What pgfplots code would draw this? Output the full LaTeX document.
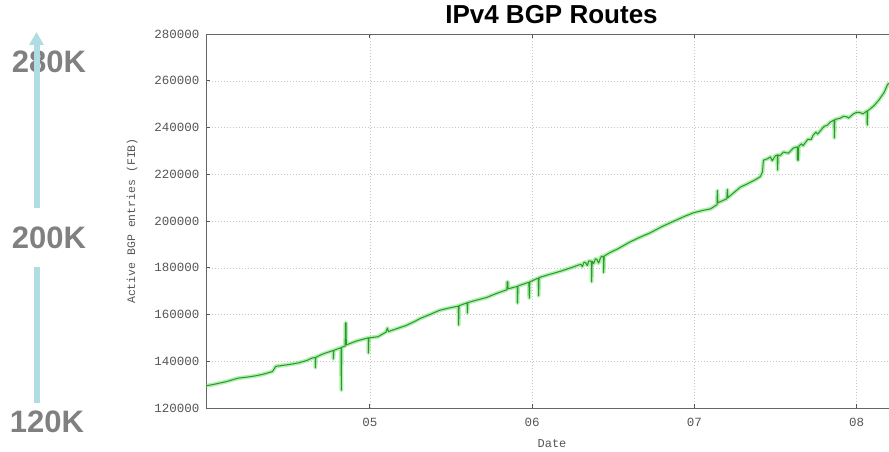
\documentclass[border=0pt]{standalone}
\usepackage{fontspec}
\setmainfont{Liberation Sans}
\setmonofont{Liberation Mono}
\usepackage{pgfplots}
\pgfplotsset{compat=1.18}
\usepackage{pgfplotstable}
\usetikzlibrary{arrows.meta}

\definecolor{routegreen}{RGB}{45,150,45}
\definecolor{glowgreen}{RGB}{95,225,95}
\definecolor{arrowblue}{RGB}{176,221,227}
\definecolor{labelgray}{RGB}{128,128,128}
\definecolor{tickgray}{RGB}{85,85,85}

% active BGP entries (FIB)
\pgfplotstableread{
year     routes
2003.99  129500
2004.03  130000
2004.07  130600
2004.11  131200
2004.15  132000
2004.19  132800
2004.24  133200
2004.29  133700
2004.34  134400
2004.37  135000
2004.40  135600
2004.42  137800
2004.46  138200
2004.51  138700
2004.56  139300
2004.61  140300
2004.645 141400
2004.664 141600
2004.664 137200
2004.667 141700
2004.70  142800
2004.73  143600
2004.775 144600
2004.775 141000
2004.778 144700
2004.81  145500
2004.823 145800
2004.824 127600
2004.826 146000
2004.848 146500
2004.849 156400
2004.853 156400
2004.855 147000
2004.87  147400
2004.92  148700
2004.99  150000
2004.991 143500
2004.994 150000
2005.05  150500
2005.10  152500
2005.108 154200
2005.115 152700
2005.16  153800
2005.22  155200
2005.27  156800
2005.31  158300
2005.37  160000
2005.43  161800
2005.49  162800
2005.546 163600
2005.547 155500
2005.550 163800
2005.60  165000
2005.601 160600
2005.604 165100
2005.66  166200
2005.72  167300
2005.78  169000
2005.845 170600
2005.846 174000
2005.850 174000
2005.852 171000
2005.909 172000
2005.910 164900
2005.913 172200
2005.98  173800
2005.983 167000
2005.986 174000
2006.039 175600
2006.040 168000
2006.043 175800
2006.10  177000
2006.175 178500
2006.24  180000
2006.30  181500
2006.31  180500
2006.32  182400
2006.33  182200
2006.34  181000
2006.35  183000
2006.366 182700
2006.367 174000
2006.370 182800
2006.38  181800
2006.39  183800
2006.40  183500
2006.41  182000
2006.422 184300
2006.43  185000
2006.44  184600
2006.441 178000
2006.444 185000
2006.48  186500
2006.526 188000
2006.60  190900
2006.66  192900
2006.73  195000
2006.80  197600
2006.87  199800
2006.94  202000
2006.994 203500
2007.05  204500
2007.10  205200
2007.14  207000
2007.142 213000
2007.145 207800
2007.20  209500
2007.204 213500
2007.207 210000
2007.25  212500
2007.284 214500
2007.33  216000
2007.38  217800
2007.407 219000
2007.42  221000
2007.426 226000
2007.45  226600
2007.469 227400
2007.48  225800
2007.50  227900
2007.512 228200
2007.513 221800
2007.516 228300
2007.53  228000
2007.549 229500
2007.58  229000
2007.61  231200
2007.635 231700
2007.636 226000
2007.641 226000
2007.644 232000
2007.66  233000
2007.67  232200
2007.70  235000
2007.72  234800
2007.733 236800
2007.75  238000
2007.76  237200
2007.80  240500
2007.82  241000
2007.838 242300
2007.862 243200
2007.863 235500
2007.866 243400
2007.90  244000
2007.92  244800
2007.942 244500
2007.95  244000
2007.98  245800
2008.00  246500
2008.022 246400
2008.04  245800
2008.06  246900
2008.065 247000
2008.066 241000
2008.069 247200
2008.076 247500
2008.11  249500
2008.138 251800
2008.17  255000
2008.19  258200
2008.20  259000
}\routes

\begin{document}
\begin{tikzpicture}
\useasboundingbox (0,0) rectangle (889pt,451pt);
\begin{axis}[
    at={(206pt,43pt)}, anchor=south west,
    scale only axis, width=683pt, height=374pt,
    xmin=2003.99, xmax=2008.2,
    ymin=120000, ymax=280000,
    axis x line*=box, axis y line*=left,
    axis line style={draw=black!60, line width=1pt},
    xtick={2005,2006,2007,2008},
    xticklabels={05,06,07,08},
    ytick={120000,140000,...,280000},
    scaled y ticks=false,
    /pgf/number format/assume math mode=true,
    yticklabel style={/pgf/number format/fixed, /pgf/number format/precision=0,
        /pgf/number format/1000 sep={}, xshift=-3pt},
    xticklabel style={yshift=-7pt},
    tick label style={font=\ttfamily\fontsize{12.5}{12.5}\selectfont, text=tickgray},
    tick align=inside, major tick length=4pt,
    tick style={draw=tickgray, line width=0.8pt},
    grid=major, grid style={gray!45, dash pattern=on 1pt off 2pt},
    title={IPv4 BGP Routes},
    title style={font=\bfseries\fontsize{26}{26}\selectfont,
        at={(axis description cs:0.5,1)}, anchor=base, yshift=5pt, xshift=4pt},
    xlabel={Date},
    xlabel style={font=\ttfamily\fontsize{12}{12}\selectfont, text=tickgray,
        at={(axis description cs:0.5066,-0.096)}, anchor=center},
    ylabel={Active BGP entries (FIB)},
    ylabel style={font=\ttfamily\fontsize{11.5}{11.5}\selectfont, text=tickgray,
        at={(axis description cs:-0.1083,0.5)}, anchor=center},
]
\addplot[glowgreen, opacity=0.5, line width=4pt, line join=round] table[x=year, y=routes] {\routes};
\addplot[routegreen, line width=1pt, line join=round] table[x=year, y=routes] {\routes};
\end{axis}

% the range arrow on the left
\node[font=\bfseries\fontsize{31}{31}\selectfont, text=labelgray] at (49pt,389pt) {280K};
\draw[arrowblue, line width=6pt] (36.5pt,48pt) -- (36.5pt,184pt);
\draw[arrowblue, line width=6pt, -{Triangle[length=13pt,width=14pt]}] (36.5pt,243pt) -- (36.5pt,419pt);
\node[font=\bfseries\fontsize{31}{31}\selectfont, text=labelgray] at (49pt,213pt) {200K};
\node[font=\bfseries\fontsize{31}{31}\selectfont, text=labelgray] at (47pt,29pt) {120K};
\end{tikzpicture}
\end{document}
